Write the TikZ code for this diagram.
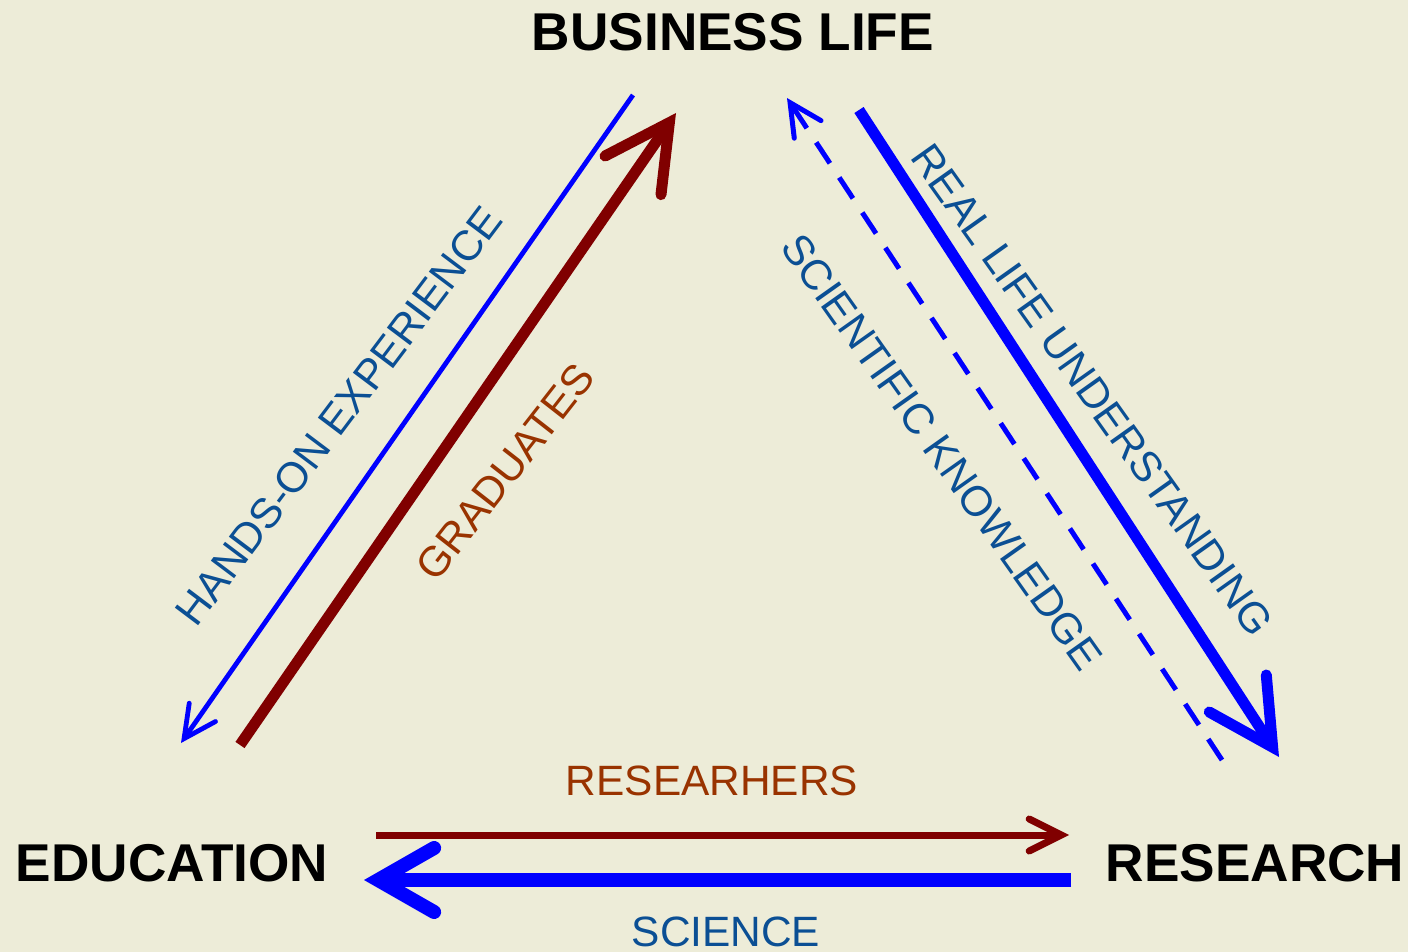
\documentclass[tikz,border=0pt]{standalone}
\usepackage{fontspec}
\setmainfont{Liberation Sans}
\usetikzlibrary{arrows.meta}
\definecolor{bg}{HTML}{EDECD8}
\definecolor{linkblue}{HTML}{0000FF}
\definecolor{linkred}{HTML}{800000}
\definecolor{txtbrown}{HTML}{993300}
\definecolor{txtblue}{HTML}{0B4F94}
\tikzset{
  pole/.style={font=\fontsize{26.6}{30}\selectfont\bfseries, text=black, inner sep=0pt},
  lbrown/.style={font=\fontsize{21.2}{25}\selectfont, text=txtbrown, inner sep=0pt},
  lblue/.style={font=\fontsize{21.2}{25}\selectfont, text=txtblue, inner sep=0pt},
  bigtip/.style={-{Straight Barb[line cap=round,line join=miter,length=32pt,width=34pt]}, line cap=butt},
  widetip/.style={-{Straight Barb[line cap=round,line join=miter,length=28pt,width=32pt]}, line cap=butt},
  smalltip/.style={-{Straight Barb[line cap=round,line join=miter,length=16pt,width=16pt]}, line cap=butt},
}
\begin{document}
\begin{tikzpicture}[x=0.5pt,y=-0.5pt]
\fill[bg] (0,0) rectangle (1408,952);
\useasboundingbox (0,0) rectangle (1408,952);
% poles
\node[pole] (bl) at (733,32) {BUSINESS LIFE};
\node[pole] (ed) at (172,863) {EDUCATION};
\node[pole] (re) at (1255,863) {RESEARCH};
% anchor coordinates
\coordinate (hoS) at (633,95);   \coordinate (hoE) at (181,743);
\coordinate (grS) at (240,745);  \coordinate (grE) at (676,113);
\coordinate (skS) at (1222,760); \coordinate (skE) at (787,98);
\coordinate (rlS) at (859,110);  \coordinate (rlE) at (1279,757);
\coordinate (rsS) at (376,835);  \coordinate (rsE) at (1069,835);
\coordinate (scS) at (1071,880); \coordinate (scE) at (364,880);
% connectors
\draw[linkblue, line width=2.4pt, smalltip] (hoS) -- (hoE);
\draw[linkred, line width=5.5pt, bigtip] (grS) -- (grE);
\draw[linkblue, line width=2.5pt, smalltip, dash pattern=on 12.5pt off 8.5pt] (skS) -- (skE);
\draw[linkblue, line width=5.5pt, bigtip] (rlS) -- (rlE);
\draw[linkred, line width=3.5pt, smalltip] (rsS) -- (rsE);
\draw[linkblue, line width=7pt, widetip] (scS) -- (scE);
% labels
\node[lblue, rotate=53] (lho) at (339,416) {HANDS-ON EXPERIENCE};
\node[lbrown, rotate=52] (lgr) at (505,472) {GRADUATES};
\node[lblue, rotate=-54.7] (lsk) at (942,452) {SCIENTIFIC KNOWLEDGE};
\node[lblue, rotate=-54.6] (lrl) at (1092,390) {REAL LIFE UNDERSTANDING};
\node[lbrown] (lrs) at (712,781) {RESEARHERS};
\node[lblue] (lsc) at (726,932) {SCIENCE};
\end{tikzpicture}
\end{document}
